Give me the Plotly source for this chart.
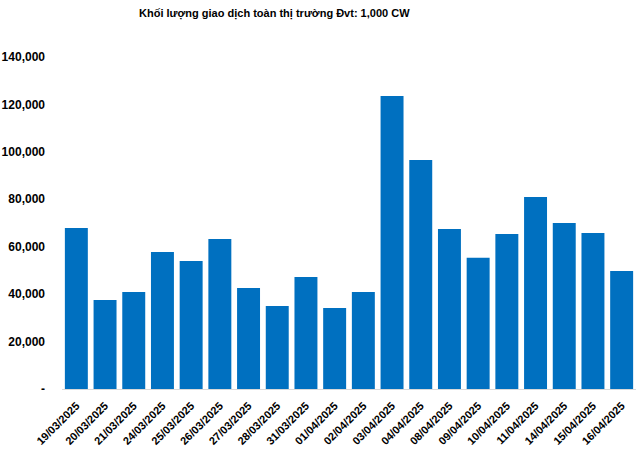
import plotly.graph_objects as go

dates = ["19/03/2025", "20/03/2025", "21/03/2025", "24/03/2025", "25/03/2025",
         "26/03/2025", "27/03/2025", "28/03/2025", "31/03/2025", "01/04/2025",
         "02/04/2025", "03/04/2025", "04/04/2025", "08/04/2025", "09/04/2025",
         "10/04/2025", "11/04/2025", "14/04/2025", "15/04/2025", "16/04/2025"]
volumes = [67900, 37500, 40900, 57800, 54000, 63300, 42600, 35000, 47200, 34200,
           40900, 123600, 96600, 67500, 55300, 65400, 81000, 70000, 65800, 49800]

y_tickvals = [0, 20000, 40000, 60000, 80000, 100000, 120000, 140000]
y_ticktext = ["-", "20,000", "40,000", "60,000", "80,000", "100,000", "120,000", "140,000"]

title_text = "Khối lượng giao dịch toàn thị trường Đvt: 1,000 CW"

fig = go.Figure(go.Bar(x=dates, y=volumes, marker_color="#0070C0", marker_line_width=0))

fig.update_layout(
    width=644, height=449,
    margin=dict(l=62, r=8, t=57, b=60),
    paper_bgcolor="white", plot_bgcolor="white",
    bargap=0.2,
    showlegend=False,
    font=dict(family="Liberation Sans, Arial, sans-serif", color="#000000"),
    annotations=[dict(text="<b>" + title_text + "</b>",
                      x=(274 - 62) / 574, y=1 + (57 - 14) / 332,
                      xref="paper", yref="paper",
                      showarrow=False,
                      font=dict(size=11, color="#000000",
                                family="Liberation Sans, Arial, sans-serif"),
                      xanchor="center", yanchor="middle")],
)

fig.update_xaxes(
    type="category",
    tickangle=-45,
    tickfont=dict(size=11, family="Liberation Sans, Arial, sans-serif", color="#000000", weight="bold"),
    showline=True, linecolor="#D9D9D9", linewidth=1,
    showgrid=False, ticks="",
    ticklabelstandoff=5,
    automargin=False,
)
fig.update_yaxes(
    range=[0, 140000],
    tickvals=y_tickvals, ticktext=y_ticktext,
    tickfont=dict(size=12, family="Liberation Sans, Arial, sans-serif", color="#000000", weight="bold"),
    showgrid=False, zeroline=False, showline=False, ticks="",
    ticklabelstandoff=16,
    automargin=False,
)

fig.write_html("out.html")
